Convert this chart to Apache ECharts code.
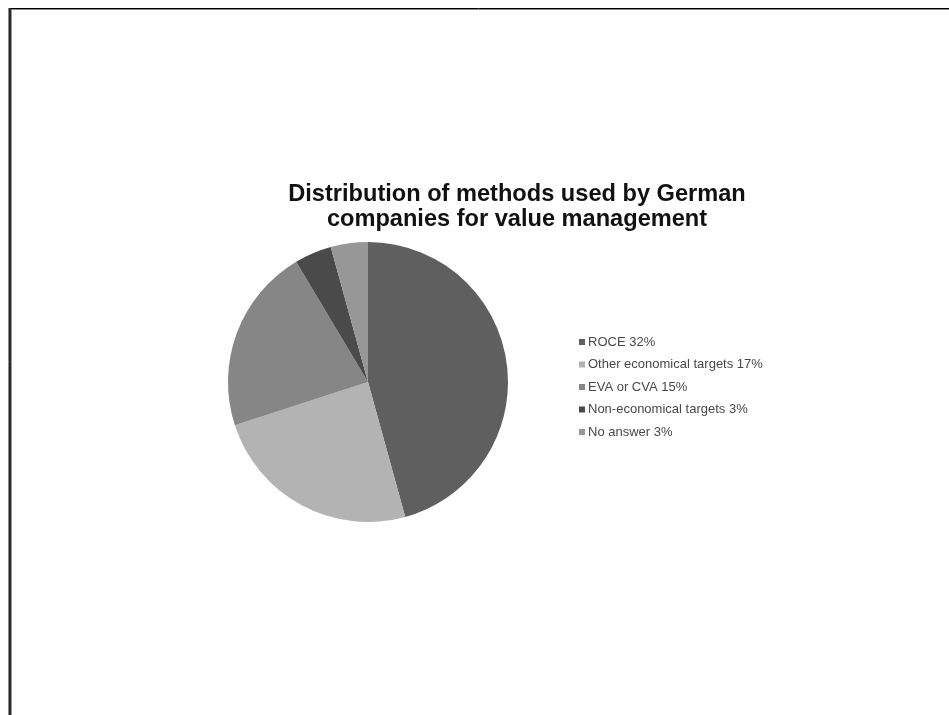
<!DOCTYPE html>
<html>
<head>
<meta charset="utf-8">
<script src="https://cdn.jsdelivr.net/npm/echarts@6/dist/echarts.min.js"></script>
<style>
  html, body { margin: 0; padding: 0; background: #ffffff; }
  #chart { width: 949px; height: 715px; }
</style>
</head>
<body>
<div id="chart"></div>
<script>
// Survey results: methods used by German companies for value management
var categories = ['ROCE', 'Other economical targets', 'EVA or CVA', 'Non-economical targets', 'No answer'];
var shares = [32, 17, 15, 3, 3];
var sliceColors = ['#5f5f5f', '#b3b3b3', '#868686', '#4a4a4a', '#979797'];
var titleText = 'Distribution of methods used by German\ncompanies for value management';

var pieData = categories.map(function (name, i) {
  return { name: name, value: shares[i], itemStyle: { color: sliceColors[i] } };
});

var chart = echarts.init(document.getElementById('chart'), null, { renderer: 'canvas' });

chart.setOption({
  backgroundColor: '#ffffff',
  animation: false,
  title: {
    text: titleText,
    left: 512,
    top: 177,
    textAlign: 'center',
    textStyle: {
      fontFamily: '"Liberation Sans", Arial, sans-serif',
      fontSize: 23.6,
      fontWeight: 'bold',
      color: '#111111',
      lineHeight: 25
    }
  },
  legend: {
    orient: 'vertical',
    left: 574,
    top: 330,
    icon: 'rect',
    itemWidth: 6,
    itemHeight: 6,
    itemGap: 8.5,
    selectedMode: false,
    data: categories,
    formatter: function (name) {
      return name + ' ' + shares[categories.indexOf(name)] + '%';
    },
    textStyle: {
      fontFamily: '"Liberation Sans", Arial, sans-serif',
      fontSize: 13,
      lineHeight: 14,
      color: '#484848',
      padding: [0, 0, 0, -2]
    }
  },
  series: [{
    type: 'pie',
    center: [368, 382],
    radius: 140,
    startAngle: 90,
    clockwise: true,
    avoidLabelOverlap: false,
    label: { show: false },
    labelLine: { show: false },
    emphasis: { disabled: true },
    itemStyle: { borderColor: '#ffffff', borderWidth: 0 },
    data: pieData
  }],
  graphic: [
    // page frame: top and left edges
    { type: 'line', silent: true, shape: { x1: 8, y1: 8.5, x2: 949, y2: 8.5 }, style: { stroke: '#000000', lineWidth: 1 } },
    { type: 'line', silent: true, shape: { x1: 11, y1: 9.5, x2: 949, y2: 9.5 }, style: { stroke: '#8a8a8a', lineWidth: 1 } },
    { type: 'line', silent: true, shape: { x1: 10, y1: 8, x2: 10, y2: 715 }, style: { stroke: '#2a2a2a', lineWidth: 2 } },
    { type: 'line', silent: true, shape: { x1: 8.5, y1: 8, x2: 8.5, y2: 715 }, style: { stroke: '#8a8a8a', lineWidth: 1 } },
    { type: 'line', silent: true, shape: { x1: 11.5, y1: 10, x2: 11.5, y2: 715 }, style: { stroke: '#9a9a9a', lineWidth: 1 } }
  ]
});
</script>
</body>
</html>
